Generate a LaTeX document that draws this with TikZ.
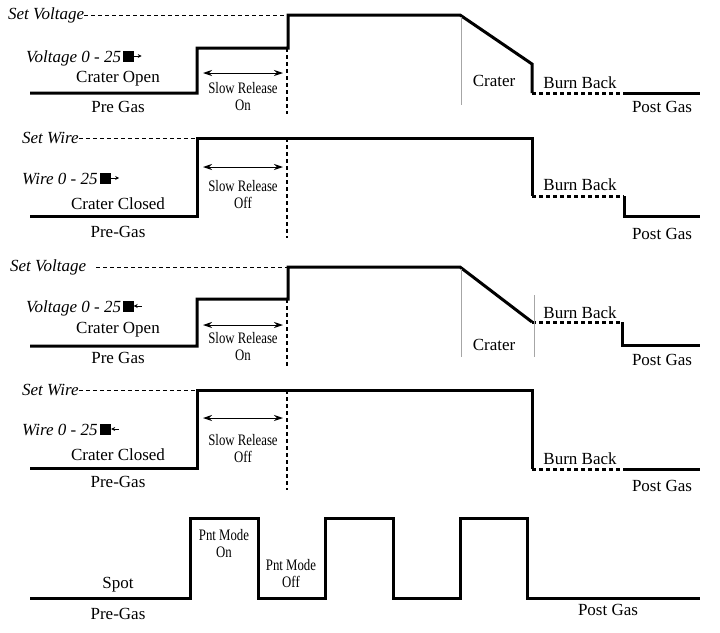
\documentclass[tikz,border=0pt]{standalone}
\usepackage{fontspec}
\setmainfont{Liberation Serif}
\usetikzlibrary{arrows.meta}
\begin{document}
\begin{tikzpicture}[x=1pt,y=-1pt,
 wave/.style={line width=3pt,line join=miter},
 dots/.style={line width=3pt,dash pattern=on 4pt off 3pt},
 refdash/.style={line width=1pt,dash pattern=on 4pt off 3pt},
 vdash/.style={line width=2pt,dash pattern=on 4pt off 3pt},
 grey/.style={gray!70,line width=0.8pt},
 lbl/.style={font=\fontsize{17}{17}\selectfont,inner sep=0pt},
 ilbl/.style={font=\fontsize{17}{17}\selectfont\itshape,inner sep=0pt},
 cnd/.style={font=\fontsize{16}{17}\selectfont,inner sep=0pt,align=center,xscale=0.8},
 dim/.style={{Stealth[length=9pt,width=6pt]}-{Stealth[length=9pt,width=6pt]},line width=1pt},
 box/.style={fill=black,minimum size=11pt,inner sep=0pt},
 small/.style={-{Stealth[length=4pt,width=4pt]},line width=1pt}]
\useasboundingbox (0,0) rectangle (720,632);
% ---- panel 1
\node[ilbl,anchor=west] (sv1) at (8,15) {Set Voltage};
\draw[refdash] (sv1.east) -- (288,15);
\draw[wave] (30,93) -- (197,93) -- (197,48) -- (288,48) -- (288,15) -- (460,15) -- (532,64) -- (532,93);
\draw[dots] (532,93) -- (625,93);
\draw[wave] (625,93) -- (700,93);
\draw[grey] (461,17) -- (461,105);
\draw[vdash] (287,48) -- (287,114);
\draw[dim] (203,73) -- (283,73);
\node[cnd] (sr1) at (243,97) {Slow Release\\On};
\node[ilbl,anchor=west] (v1) at (26,58) {Voltage 0 - 25};
\node[box,anchor=west] (b1) at ([xshift=1pt,yshift=2pt]v1.east) {};
\draw[small] (b1.east) -- ++(8,0);
\node[lbl] (co1) at (118,79) {Crater Open};
\node[lbl] (pg1) at (118,107) {Pre Gas};
\node[lbl] (cr1) at (494,81) {Crater};
\node[lbl] (bb1) at (580,83) {Burn Back};
\node[lbl] (pog1) at (662,107) {Post Gas};
% ---- panel 2
\node[ilbl,anchor=west] (sw2) at (22,138) {Set Wire};
\draw[refdash] (sw2.east) -- (197,138);
\draw[wave] (30,216) -- (197,216) -- (197,138) -- (532,138) -- (532,196);
\draw[dots] (532,196) -- (624,196);
\draw[wave] (624,196) -- (624,216) -- (700,216);
\draw[vdash] (287,138) -- (287,238);
\draw[dim] (203,167) -- (283,167);
\node[cnd] (sr2) at (243,195) {Slow Release\\Off};
\node[ilbl,anchor=west] (w2) at (22,179) {Wire 0 - 25};
\node[box,anchor=west] (b2) at ([xshift=2pt,yshift=1pt]w2.east) {};
\draw[small] (b2.east) -- ++(8,0);
\node[lbl] (cc2) at (118,204) {Crater Closed};
\node[lbl] (pg2) at (118,232) {Pre-Gas};
\node[lbl] (bb2) at (580,185) {Burn Back};
\node[lbl] (pog2) at (662,234) {Post Gas};
% ---- panel 3
\node[ilbl,anchor=west] (sv3) at (10,267) {Set Voltage};
\draw[refdash] (sv3.east) ++(10,0) -- (288,267);
\draw[wave] (30,346) -- (197,346) -- (197,299) -- (288,299) -- (288,267) -- (460,267) -- (532,322);
\draw[dots] (532,322) -- (622,322);
\draw[wave] (622,322) -- (622,345) -- (700,345);
\draw[grey] (461,269) -- (461,357);
\draw[grey] (534,295) -- (534,357);
\draw[vdash] (287,299) -- (287,366);
\draw[dim] (203,325) -- (283,325);
\node[cnd] (sr3) at (243,347) {Slow Release\\On};
\node[ilbl,anchor=west] (v3) at (26,308) {Voltage 0 - 25};
\node[box,anchor=west] (b3) at ([xshift=1pt,yshift=2pt]v3.east) {};
\draw[small] (b3.east) ++(8,0) -- (b3.east);
\node[lbl] (co3) at (118,330) {Crater Open};
\node[lbl] (pg3) at (118,358) {Pre Gas};
\node[lbl] (cr3) at (494,345) {Crater};
\node[lbl] (bb3) at (580,313) {Burn Back};
\node[lbl] (pog3) at (662,360) {Post Gas};
% ---- panel 4
\node[ilbl,anchor=west] (sw4) at (22,390) {Set Wire};
\draw[refdash] (sw4.east) -- (197,390);
\draw[wave] (30,468) -- (197,468) -- (197,390) -- (532,390) -- (532,469);
\draw[dots] (532,469) -- (624,469);
\draw[wave] (624,469) -- (700,469);
\draw[vdash] (287,390) -- (287,490);
\draw[dim] (203,418) -- (283,418);
\node[cnd] (sr4) at (243,449) {Slow Release\\Off};
\node[ilbl,anchor=west] (w4) at (22,430) {Wire 0 - 25};
\node[box,anchor=west] (b4) at ([xshift=2pt,yshift=1pt]w4.east) {};
\draw[small] (b4.east) ++(8,0) -- (b4.east);
\node[lbl] (cc4) at (118,455) {Crater Closed};
\node[lbl] (pg4) at (118,482) {Pre-Gas};
\node[lbl] (bb4) at (580,459) {Burn Back};
\node[lbl] (pog4) at (662,486) {Post Gas};
% ---- panel 5
\draw[wave] (30,598) -- (190,598) -- (190,518) -- (258,518) -- (258,598) -- (325,598) -- (325,518) -- (393,518) -- (393,598) -- (460,598) -- (460,518) -- (527,518) -- (527,598) -- (700,598);
\node[lbl] (sp5) at (118,585) {Spot};
\node[lbl] (pg5) at (118,614) {Pre-Gas};
\node[cnd] (pm1) at (224,544) {Pnt Mode\\On};
\node[cnd] (pm2) at (291,574) {Pnt Mode\\Off};
\node[lbl] (pog5) at (608,610) {Post Gas};
\end{tikzpicture}
\end{document}
